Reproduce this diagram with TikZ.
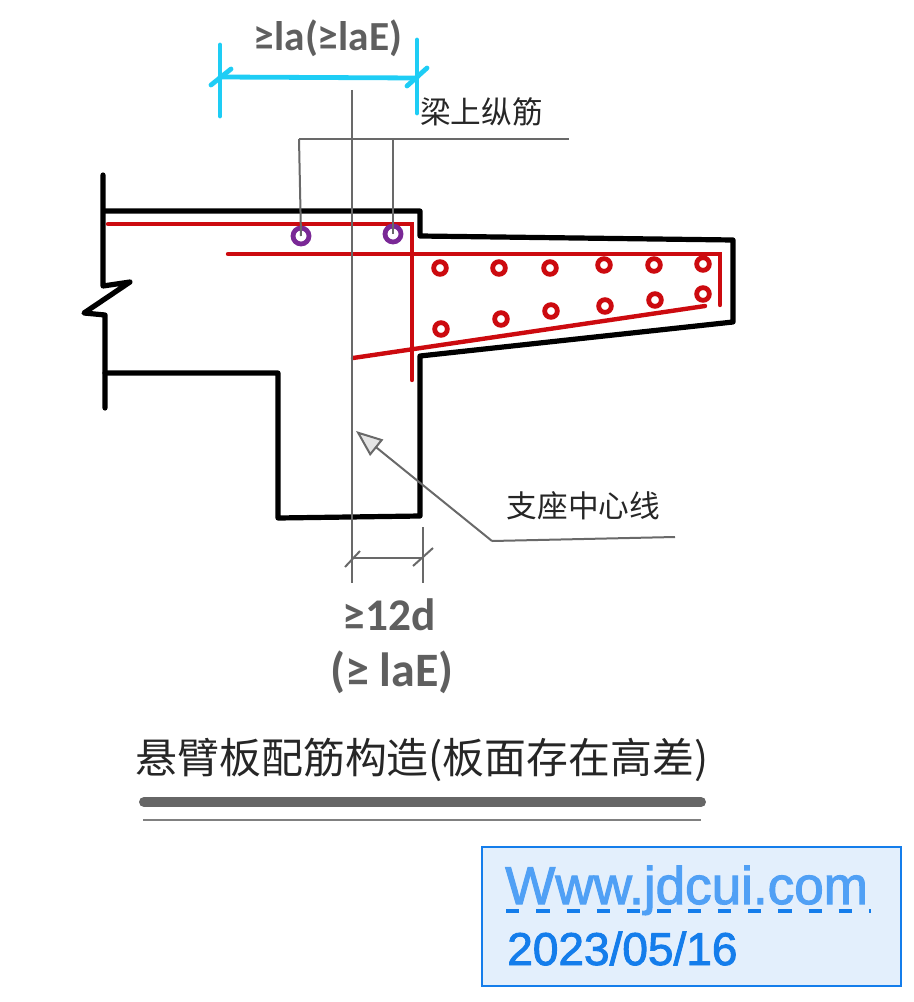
\documentclass[tikz,border=0pt]{standalone}
\usepackage{fontspec}
\setmainfont{Liberation Sans}
\newfontfamily\cjkfont{Noto Sans CJK SC}
\newfontfamily\handfont{Carlito}
\newfontfamily\stampfont[RawFeature={embolden=2}]{Liberation Sans}
\usepackage{tikz}
\usetikzlibrary{arrows.meta,positioning}
\definecolor{rebar}{RGB}{204, 10, 15}
\definecolor{stirrup}{RGB}{122, 40, 150}
\definecolor{dimcyan}{RGB}{30, 205, 245}
\definecolor{leader}{RGB}{105, 105, 105}
\definecolor{handgray}{RGB}{95, 95, 95}
\definecolor{stampblue}{RGB}{20, 125, 235}
\definecolor{stamplight}{RGB}{80, 160, 245}
\definecolor{stampfill}{RGB}{227, 239, 252}
\tikzstyle{concrete} = [draw=black, line width=3.9pt, line join=round, line cap=round]
\tikzstyle{mainbar} = [draw=rebar, line width=3.3pt, line cap=round]
\tikzstyle{barsec} = [circle, draw=rebar, line width=3.6pt, fill=white, inner sep=0pt, minimum size=9.5pt]
\tikzstyle{beamsec} = [circle, draw=stirrup, line width=3.6pt, fill=white, inner sep=0pt, minimum size=12pt]
\tikzstyle{thin} = [draw=leader, line width=1.5pt]
\tikzstyle{cyandim} = [draw=dimcyan, line width=3.6pt, line cap=round]
\tikzstyle{cjklabel} = [inner sep=0pt, text=black!85, font=\cjkfont\fontsize{23}{27}\selectfont]
\tikzstyle{handlabel} = [inner sep=0pt, text=handgray]

\begin{document}
\begin{tikzpicture}[x=0.75pt, y=-0.75pt]
\useasboundingbox (0,0) rectangle (913,1002);

% concrete outline =============================
\draw[concrete] (105,211) -- (420,211) -- (420,236) -- (733,240) -- (733,322) -- (420,356)
  -- (420,516) -- (278,518) -- (278,373) -- (105,373);
\draw[concrete] (103,175) -- (103,286) -- (130,282) -- (84,313) -- (105,315) -- (105,408);

% main bars =============================
\draw[mainbar, line join=miter] (108,224) -- (412,224) -- (412,380);
\draw[mainbar, line join=miter] (228,254) -- (720,254) -- (720,305);
\draw[mainbar] (353,358) -- (705,306);

% bar sections =============================
\node[beamsec] (ba) at (301,236) {};
\node[beamsec] (bb) at (393,234) {};
\node[barsec] (ta) at (440,268) {};
\node[barsec] (tb) at (499,268) {};
\node[barsec] (tc) at (550,268) {};
\node[barsec] (td) at (604,265) {};
\node[barsec] (te) at (654,265) {};
\node[barsec] (tf) at (703,264) {};
\node[barsec] (da) at (441,329) {};
\node[barsec] (db) at (501,319) {};
\node[barsec] (dc) at (551,311) {};
\node[barsec] (dd) at (605,306) {};
\node[barsec] (de) at (655,300) {};
\node[barsec] (df) at (703,294) {};

% leaders =============================
\coordinate (axistop) at (352,90);
\coordinate (axisend) at (352,583);
\coordinate (extop) at (423,527);
\coordinate (exend) at (423,583);
\coordinate (dima) at (352,558);
\coordinate (dimb) at (423,558);
\coordinate (lbar) at (299,139);
\coordinate (rbar) at (393,139);
\coordinate (lend) at (569,139);
\coordinate (tailend) at (675,537);
\coordinate (knee) at (492,541);
\coordinate (tipend) at (356,431);
\path[thin] (axistop) -- (axisend);
\path[thin] (extop) -- (exend);
\path[thin] (dima) -- (dimb);
\path[thin] (345,567) -- (360,551);
\path[thin] (413,566) -- (433,548);
\path[thin] (lbar) -- (lend);
\path[thin] (lbar) -- (ba.center);
\path[thin] (rbar) -- (bb.center);
\path[thin] (tailend) -- (knee);
\path[thin, -{Triangle[open, length=20pt, width=15.5pt, fill=black!10]}] (knee) -- (tipend);

% cyan dimension =============================
\coordinate (cyana) at (220,77);
\coordinate (cyanb) at (417,78);
\path[cyandim] (cyana) -- (cyanb);
\path[cyandim] (220,45) -- (220,116);
\path[cyandim] (417,40) -- (417,113);
\path[cyandim] (211,85) -- (231,69);
\path[cyandim] (407,86) -- (427,68);

% labels =============================
\node[handlabel, font=\handfont\bfseries\fontsize{31}{36}\selectfont] (lanchor) at (328,38) {≥la(≥laE)};
\node[cjklabel] (beambar) at (481.5,112) {梁上纵筋};
\node[cjklabel] (axislabel) at (583.5,506) {支座中心线};
\node[handlabel, font=\handfont\bfseries\fontsize{34}{38}\selectfont] (twelve) at (389,615) {≥12d};
\node[handlabel, font=\handfont\bfseries\fontsize{36}{42}\selectfont] (laelabel) at (392,672) {(≥ laE)};

% title =============================
\node[inner sep=0pt, text=black!85, font=\cjkfont\fontsize{31.4}{36}\selectfont] (title) at (422,760) {悬臂板配筋构造(板面存在高差)};
\coordinate (rulea) at (144,802);
\coordinate (ruleb) at (701,802);
\coordinate (rulec) at (143,820);
\coordinate (ruled) at (701,820);
\draw[draw=black!60, line width=7.5pt, line cap=round] (rulea) -- (ruleb);
\draw[draw=black!50, line width=1.5pt] (rulec) -- (ruled);

% stamp =============================
\node[draw=stampblue, line width=1.8pt, fill=stampfill, minimum width=314pt, minimum height=104pt, inner sep=0pt] (stamp) at (691.5,916.5) {};
\node[inner sep=0pt, anchor=base west, text=stamplight, font=\stampfont\fontsize{39.8}{44}\selectfont] (site) at (505,904) {Www.jdcui.com};
\node[inner sep=0pt, anchor=base west, text=stampblue, font=\stampfont\fontsize{34.5}{40}\selectfont] (datelabel) at (507,965) {2023/05/16};
\coordinate (duna) at (506,911);
\coordinate (dunb) at (871,911);
\draw[draw=stampblue, line width=3pt, dash pattern=on 10pt off 12.7pt] (duna) -- (dunb);
\end{tikzpicture}
\end{document}
